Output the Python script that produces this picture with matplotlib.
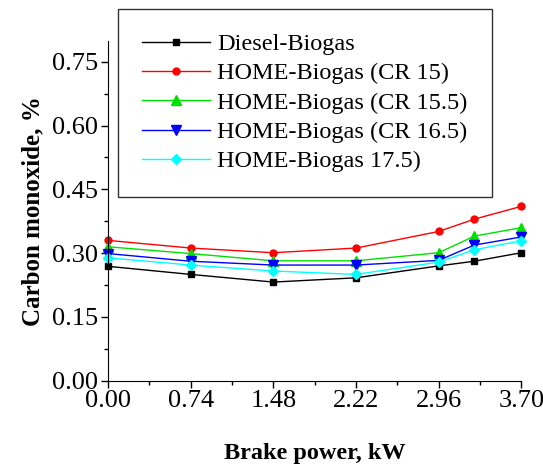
import matplotlib
matplotlib.use("Agg")
import matplotlib.pyplot as plt
from matplotlib.ticker import MultipleLocator, FormatStrFormatter

plt.rcParams['font.family'] = ['Liberation Serif', 'DejaVu Serif']

# brake power, kW
power = [0.00, 0.74, 1.48, 2.22, 2.96, 3.28, 3.70]

# carbon monoxide, %
diesel_biogas = [0.269, 0.250, 0.232, 0.242, 0.270, 0.281, 0.301]
home_cr15 = [0.330, 0.312, 0.301, 0.312, 0.351, 0.380, 0.410]
home_cr155 = [0.315, 0.299, 0.282, 0.282, 0.301, 0.340, 0.360]
home_cr165 = [0.299, 0.281, 0.272, 0.272, 0.283, 0.319, 0.338]
home_cr175 = [0.289, 0.272, 0.258, 0.250, 0.279, 0.308, 0.329]

labels = ['Diesel-Biogas', 'HOME-Biogas (CR 15)', 'HOME-Biogas (CR 15.5)',
          'HOME-Biogas (CR 16.5)', 'HOME-Biogas 17.5)']
series = [diesel_biogas, home_cr15, home_cr155, home_cr165, home_cr175]
colors = ['black', 'red', '#00e000', '#0000ff', '#00ffff']
markers = ['s', 'o', '^', 'v', 'D']
msizes = [4.5, 5, 6.5, 6.5, 5]

fig = plt.figure(figsize=(5.43, 4.66), dpi=100)
ax = fig.add_axes([0.199, 0.183, 0.761, 0.730])

for y, lab, c, m, ms in zip(series, labels, colors, markers, msizes):
    ax.plot(power, y, color=c, marker=m, markersize=ms, linewidth=1.0,
            label=lab, clip_on=False)

ax.set_xlim(0, 3.70)
ax.set_ylim(0, 0.80)
ax.xaxis.set_major_locator(MultipleLocator(0.74))
ax.xaxis.set_minor_locator(MultipleLocator(0.37))
ax.yaxis.set_major_locator(MultipleLocator(0.15))
ax.yaxis.set_minor_locator(MultipleLocator(0.075))
ax.xaxis.set_major_formatter(FormatStrFormatter('%.2f'))
ax.yaxis.set_major_formatter(FormatStrFormatter('%.2f'))
ax.tick_params(which='both', direction='out', labelsize=19, width=1, pad=2)
ax.tick_params(which='major', length=5)
ax.tick_params(which='minor', length=3)

for s in ['top', 'right']:
    ax.spines[s].set_visible(False)

ax.set_xlabel('Brake power, kW', fontsize=17.5, fontweight='bold', labelpad=22)
ax.set_ylabel('Carbon monoxide, %', fontsize=18, fontweight='bold', labelpad=6)

leg = fig.legend(loc='upper left', bbox_to_anchor=(0.217, 0.981), fontsize=17.5,
                 frameon=True, fancybox=False, edgecolor='black', handlelength=2.8,
                 labelspacing=0.3, borderpad=1.0, handletextpad=0.3,
                 borderaxespad=0)
leg.get_frame().set_linewidth(1.0)

fig.savefig('out.png', dpi=100)
